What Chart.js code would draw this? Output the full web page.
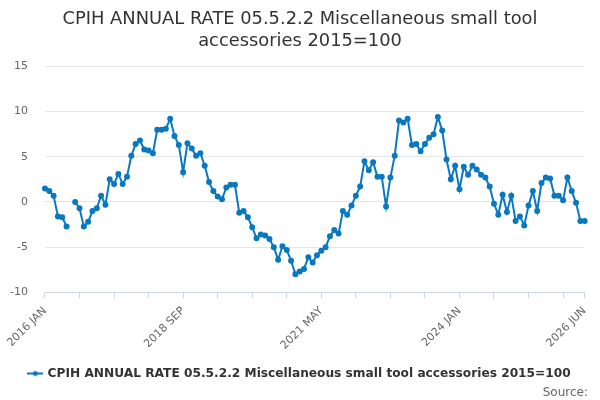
<!DOCTYPE html>
<html>
<head>
<meta charset="utf-8">
<script src="https://cdn.jsdelivr.net/npm/chart.js@4.4.1/dist/chart.umd.min.js"></script>
<style>
  html, body { margin: 0; padding: 0; background: #fff; }
  #wrap { width: 600px; height: 400px; }
</style>
</head>
<body>
<div id="wrap"><canvas id="grafico" width="600" height="400"></canvas></div>
<script>
// monthly series, 2016 JAN .. 2026 JUN
const months = ['JAN', 'FEB', 'MAR', 'APR', 'MAY', 'JUN', 'JUL', 'AUG', 'SEP', 'OCT', 'NOV', 'DEC'];
const startYear = 2016;
const periods = [];
for (let y = startYear; y <= 2026; y++) {
  for (let m = 0; m < 12; m++) {
    if (y === 2026 && m > 5) break;
    periods.push(y + ' ' + months[m]);
  }
}

const annualRate = [
  1.5, 1.2, 0.7, -1.6, -1.7, -2.7, null, 0.0, -0.7, -2.7, -2.2, -1.0,
  -0.7, 0.7, -0.3, 2.5, 2.0, 3.1, 2.0, 2.8, 5.1, 6.4, 6.8, 5.8,
  5.7, 5.4, 8.0, 8.0, 8.1, 9.2, 7.3, 6.3, 3.3, 6.5, 5.9, 5.1,
  5.4, 4.0, 2.2, 1.2, 0.6, 0.3, 1.6, 1.9, 1.9, -1.2, -1.0, -1.7,
  -2.8, -4.0, -3.6, -3.7, -4.1, -5.0, -6.4, -4.9, -5.3, -6.5, -8.0, -7.7,
  -7.4, -6.1, -6.7, -5.9, -5.4, -5.0, -3.8, -3.1, -3.5, -1.0, -1.4, -0.4,
  0.7, 1.7, 4.5, 3.5, 4.4, 2.8, 2.8, -0.5, 2.7, 5.1, 9.0, 8.8,
  9.2, 6.3, 6.4, 5.6, 6.4, 7.1, 7.5, 9.4, 7.9, 4.7, 2.5, 4.0,
  1.4, 3.9, 3.0, 4.0, 3.6, 3.0, 2.7, 1.7, -0.2, -1.4, 0.8, -1.1,
  0.7, -2.1, -1.6, -2.6, -0.4, 1.2, -1.0, 2.1, 2.7, 2.6, 0.7, 0.7,
  0.2, 2.7, 1.2, -0.1, -2.1, -2.1
];

const seriesName = 'CPIH ANNUAL RATE 05.5.2.2 Miscellaneous small tool accessories 2015=100';
const yTicks = [-10, -5, 0, 5, 10, 15];

const blue = '#0a78bf';

// legend symbol: short line with a dot
const sym = document.createElement('canvas');
sym.width = 16; sym.height = 8;
let sc = sym.getContext('2d');
sc.strokeStyle = blue; sc.lineWidth = 2;
sc.beginPath(); sc.moveTo(0, 4); sc.lineTo(16, 4); sc.stroke();
sc.fillStyle = blue;
sc.beginPath(); sc.arc(8, 4, 2.5, 0, Math.PI * 2); sc.fill();

const last = periods.length - 1;

// title, legend and source sit across the whole canvas, not the padded area
const recentre = {
  id: 'recentre',
  afterLayout(chart) {
    chart.boxes.forEach(b => {
      if (b.isHorizontal && b.fullSize && !b.axis && b.position !== 'left' && b.position !== 'right') {
        if (b.options && b.options.text === 'Source:') {
          b.right = 588;
        } else {
          b.left = 0;
          b.right = chart.width;
        }
        if (b === chart.legend) {
          b.top += 4;
          b.bottom += 4;
        }
      }
    });
  }
};

let ctx = document.getElementById('grafico').getContext('2d');
new Chart(ctx, {
  type: 'line',
  data: {
    labels: periods,
    datasets: [{
      label: seriesName,
      data: annualRate,
      borderColor: blue,
      backgroundColor: blue,
      borderWidth: 2,
      pointRadius: 2,
      pointHoverRadius: 3,
      pointStyle: 'circle',
      spanGaps: false,
      tension: 0
    }]
  },
  plugins: [recentre],
  options: {
    responsive: false,
    animation: false,
    layout: { padding: { left: -7, right: 15, top: 6, bottom: 0 } },
    plugins: {
      title: {
        display: true,
        text: ['CPIH ANNUAL RATE 05.5.2.2 Miscellaneous small tool', 'accessories 2015=100'],
        color: '#333333',
        font: { family: 'DejaVu Sans', size: 17.85, weight: 'normal', lineHeight: 1.25 },
        padding: { top: 2, bottom: 13.7 }
      },
      subtitle: {
        display: true,
        position: 'bottom',
        align: 'end',
        text: 'Source:',
        color: '#666666',
        font: { family: 'DejaVu Sans', size: 12 },
        padding: { top: 0, bottom: 0 },
        weight: 1500
      },
      legend: {
        position: 'bottom',
        labels: {
          usePointStyle: true,
          pointStyle: sym,
          color: '#333333',
          font: { family: 'DejaVu Sans', size: 12.2, weight: 'bold' },
          padding: 2
        }
      },
      tooltip: { enabled: false }
    },
    scales: {
      x: {
        grid: { drawOnChartArea: false, color: '#ccd6eb', tickLength: 6, tickColor: '#ccd6eb' },
        border: { color: '#ccd6eb' },
        afterFit: function(axis) { axis.height = 69; },
        ticks: {
          autoSkip: false,
          maxRotation: 45,
          minRotation: 45,
          padding: 6,
          color: '#666666',
          font: { family: 'DejaVu Sans', size: 11 },
          callback: function(v, i) {
            if (i % 32 === 0 || i === last) return periods[i];
            if (i % 8 === 0) return '';
            return null;
          }
        }
      },
      y: {
        min: -10,
        max: 15,
        afterBuildTicks: function(axis) {
          axis.ticks = yTicks.map(v => ({ value: v }));
        },
        grid: { color: '#e6e6e6', drawTicks: false },
        border: { display: false },
        ticks: {
          color: '#666666',
          padding: 17,
          font: { family: 'DejaVu Sans', size: 11 }
        }
      }
    }
  }
});
</script>
</body>
</html>
